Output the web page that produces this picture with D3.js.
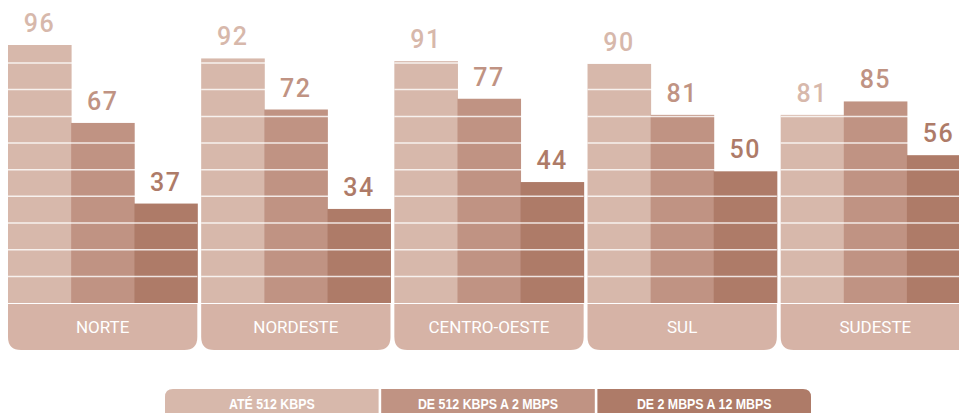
<!DOCTYPE html>
<html lang="pt">
<head>
<meta charset="utf-8">
<script src="https://d3js.org/d3.v7.min.js"></script>
<style>
  body { margin: 0; background: #fff; }
  svg { display: block; }
</style>
</head>
<body>
<script>
// regions and speed bands
var regions = ["NORTE", "NORDESTE", "CENTRO-OESTE", "SUL", "SUDESTE"];
var bands = ["ATÉ 512 KBPS", "DE 512 KBPS A 2 MBPS", "DE 2 MBPS A 12 MBPS"];
// printed values
var ate512 = [96, 92, 91, 90, 81];
var de512a2 = [67, 72, 77, 81, 85];
var de2a12 = [37, 34, 44, 50, 56];
// bar lengths as drawn in the original (81/85 bars are drawn shorter than labelled)
var ate512Bar = [96, 91, 90, 89, 70];
var de512a2Bar = [67, 72, 76, 70, 75];
var de2a12Bar = [37, 35, 45, 49, 55];
var stripes = [9.9, 19.8, 29.8, 39.7, 49.6, 59.5, 69.4, 79.4, 89.3];

var colors = ["#d7b8ab", "#c09383", "#ae7b68"];
var labelBox = "#d6b3a6";

var width = 959, height = 413;
var svg = d3.select("body").append("svg")
  .attr("width", width)
  .attr("height", height);

var x = d3.scaleBand().domain(regions).range([8, 970]).paddingInner(0.02).paddingOuter(0);
var xs = d3.scaleBand().domain(bands).range([0, x.bandwidth()]);
var y = d3.scaleLinear().domain([0, 100]).range([303, 34.25]);

var table = regions.map(function(r, i) {
  var vals = [ate512[i], de512a2[i], de2a12[i]];
  var lens = [ate512Bar[i], de512a2Bar[i], de2a12Bar[i]];
  return {
    region: r,
    items: bands.map(function(b, j) { return { band: b, value: vals[j], len: lens[j], j: j }; })
  };
});

var groups = svg.selectAll("g.region")
  .data(table)
  .enter().append("g")
  .attr("class", "region")
  .attr("transform", function(d) { return "translate(" + x(d.region) + ",0)"; });

// bars
groups.selectAll("rect.bar")
  .data(function(d) { return d.items; })
  .enter().append("rect")
  .attr("class", "bar")
  .attr("x", function(d) { return xs(d.band); })
  .attr("width", xs.bandwidth() + 0.5)
  .attr("y", function(d) { return y(d.len); })
  .attr("height", function(d) { return y(0) - y(d.len); })
  .attr("fill", function(d) { return colors[d.j]; });

// stripes across the bars
groups.selectAll("line.stripe")
  .data(stripes)
  .enter().append("line")
  .attr("class", "stripe")
  .attr("x1", 0)
  .attr("x2", x.bandwidth())
  .attr("y1", function(d) { return y(d); })
  .attr("y2", function(d) { return y(d); })
  .attr("stroke", "#fff")
  .attr("stroke-opacity", 0.8)
  .attr("stroke-width", 1.5);

// value labels
groups.selectAll("text.value")
  .data(function(d) { return d.items; })
  .enter().append("text")
  .attr("class", "value")
  .attr("x", function(d) { return xs(d.band) + xs.bandwidth() / 2; })
  .attr("y", function(d) { return y(d.len) - 13; })
  .attr("text-anchor", "middle")
  .attr("fill", function(d) { return colors[d.j]; })
  .style("font-family", "Roboto, 'Liberation Sans', sans-serif")
  .style("font-weight", "500")
  .style("font-size", "25px")
  .style("letter-spacing", "1.5px")
  .text(function(d) { return d.value; });

// region label boxes, rounded at the bottom
function bottomRounded(w, top, h, r) {
  return "M0," + top + "H" + w + "V" + (top + h - r) +
    "Q" + w + "," + (top + h) + " " + (w - r) + "," + (top + h) +
    "H" + r + "Q0," + (top + h) + " 0," + (top + h - r) + "Z";
}
groups.append("path")
  .attr("d", bottomRounded(x.bandwidth(), y(0) + 1, 46, 13))
  .attr("fill", labelBox);

groups.append("text")
  .attr("x", x.bandwidth() / 2)
  .attr("y", y(0) + 30)
  .attr("text-anchor", "middle")
  .attr("fill", "#fff")
  .style("font-family", "Roboto, 'Liberation Sans', sans-serif")
  .style("font-size", "17px")
  .text(function(d) { return d.region; });

// legend
var lx = d3.scaleBand().domain(bands).range([165, 811]).paddingInner(0.012);
var legend = svg.selectAll("g.legend")
  .data(bands)
  .enter().append("g")
  .attr("class", "legend")
  .attr("transform", function(d) { return "translate(" + lx(d) + ",389)"; });

legend.append("path")
  .attr("d", function(d, i) {
    var w = lx.bandwidth(), h = 40, r = 8;
    var rl = i === 0 ? r : 0, rr = i === bands.length - 1 ? r : 0;
    return "M0," + h + "V" + rl + "Q0,0 " + rl + ",0H" + (w - rr) +
      "Q" + w + ",0 " + w + "," + rr + "V" + h + "Z";
  })
  .attr("fill", function(d, i) { return colors[i]; });

// condensed bold caption
legend.append("text")
  .attr("transform", "translate(" + (lx.bandwidth() / 2) + ",20) scale(0.8,1)")
  .attr("text-anchor", "middle")
  .attr("fill", "#fff")
  .style("font-family", "'Liberation Sans', Arial, sans-serif")
  .style("font-weight", "bold")
  .style("font-size", "15.5px")
  .text(function(d) { return d; });
</script>
</body>
</html>
